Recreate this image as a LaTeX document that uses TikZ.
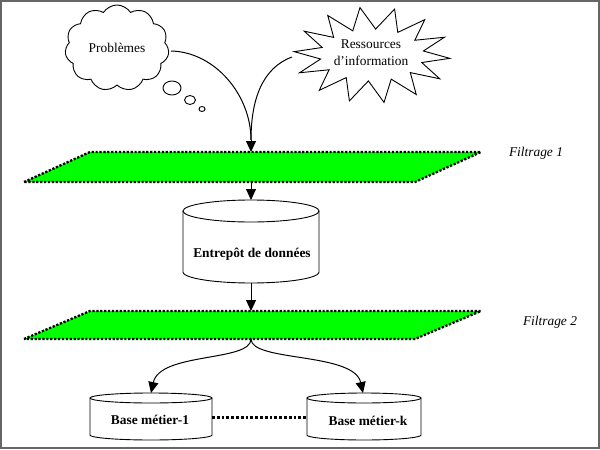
\documentclass[tikz,border=0pt]{standalone}
\usepackage{fontspec}
\setmainfont{Liberation Serif}
\usetikzlibrary{shapes.symbols,arrows.meta}
\begin{document}
\begin{tikzpicture}[x=1pt,y=-1pt,
  every node/.style={font=\fontsize{13.4}{16}\selectfont, inner sep=0pt},
  conn/.style={line width=1pt, -{Triangle[length=11pt,width=10pt]}},
  outline/.style={line width=0.9pt},
  plane/.style={fill=green, draw=black, line width=2.3pt, dash pattern=on 2.2pt off 1.7pt},
  dots/.style={line width=3pt, dash pattern=on 2.8pt off 2pt},
  lbl/.style={font=\fontsize{13.4}{16}\selectfont\itshape},
  bold/.style={font=\fontsize{13.4}{16}\selectfont\bfseries}]
\useasboundingbox (0,0) rectangle (600,450);
\draw[line width=2pt, black!60] (1,1) rectangle (598.5,448);

% cloud
\node[cloud, cloud puffs=11, cloud puff arc=115, aspect=1.25, draw, outline,
      minimum width=104pt, minimum height=86pt] (prob) at (117,48) {Probl\`emes};
\draw[outline] (172,88) ellipse [x radius=9, y radius=7];
\draw[outline] (190,100) ellipse [x radius=5.5, y radius=4.5];
\draw[outline] (202,109) ellipse [x radius=3, y radius=2.5];

% starburst
\draw[outline] plot[samples at={0,...,27}]
  ({372+(65+13*cos(\x*180))*cos(\x*360/28+4)}, {55+(37+11*cos(\x*180))*sin(\x*360/28+4)}) -- cycle;
\node[align=center, font=\fontsize{13.4}{17}\selectfont] (res) at (371,53) {Ressources\\d’information};
\coordinate (resL) at (292,57);
\coordinate (probR) at (171,51);

% plane 1
\coordinate (p1top) at (251,152);
\coordinate (p1bot) at (251,182);
\draw[plane] (24,182) -- (90,152) -- (481,152) -- (415,182) -- cycle;
\node[lbl] (f1) at (536,153) {Filtrage 1};

\draw[line width=1pt] (probR) .. controls (215,52) and (251,95) .. (251,140);
\draw[line width=1pt] (resL) .. controls (262,68) and (251,100) .. (251,140);
\coordinate (p1in) at (251,140);
\draw[conn] (p1in) -- (p1top);

% entrepot cylinder
\coordinate (entTop) at (251,200);
\coordinate (entBot) at (251,283);
\draw[outline, fill=white] (183,211) -- (183,272)
  plot[domain=180:0, samples=40] ({251+68*cos(\x)}, {272+11*sin(\x)}) -- (319,211);
\draw[outline] (251,211) ellipse [x radius=68, y radius=11];
\node[bold] (ent) at (252,254) {Entrep\^ot de donn\'ees};
\draw[conn] (p1bot) -- (entTop);

% plane 2
\coordinate (p2top) at (251,311);
\coordinate (p2bot) at (251,339);
\draw[plane] (24,339) -- (90,311) -- (481,311) -- (415,339) -- cycle;
\node[lbl] (f2) at (550,322) {Filtrage 2};
\draw[conn] (entBot) -- (p2top);

% base metier 1
\coordinate (b1Top) at (151,393);
\draw[outline] (90,398) -- (90,435)
  plot[domain=180:0, samples=40] ({151+61*cos(\x)}, {435+5*sin(\x)}) -- (212,398);
\draw[outline] (151,398) ellipse [x radius=61, y radius=5];
\node[bold] (b1) at (150,420) {Base m\'etier-1};
\coordinate (b1R) at (212,417);

% base metier k
\coordinate (bkTop) at (363,393);
\draw[outline] (307,398) -- (307,435)
  plot[domain=180:0, samples=40] ({364+57*cos(\x)}, {435+5*sin(\x)}) -- (421,398);
\draw[outline] (364,398) ellipse [x radius=57, y radius=5];
\node[bold] (bk) at (368,421) {Base m\'etier-k};
\coordinate (bkL) at (307,417);

\draw[conn] (p2bot) .. controls (251,362) and (160,352) .. (b1Top);
\draw[conn] (p2bot) .. controls (251,362) and (354,352) .. (bkTop);
\draw[dots] (b1R) -- (bkL);
\end{tikzpicture}
\end{document}
